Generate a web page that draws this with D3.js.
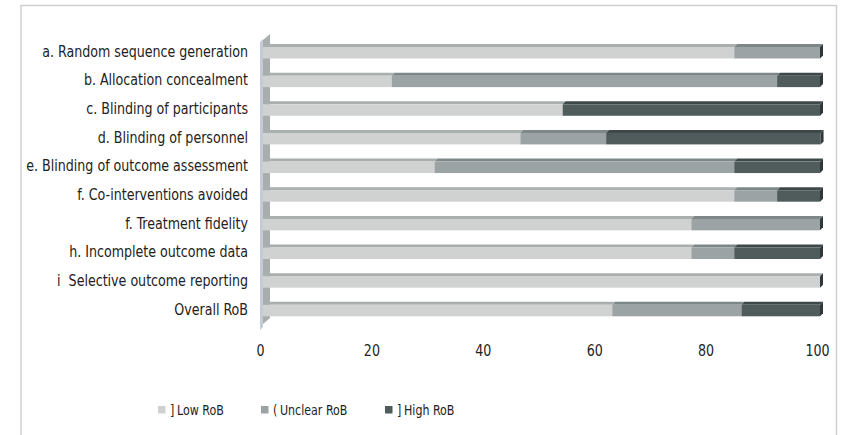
<!DOCTYPE html>
<html><head><meta charset="utf-8">
<script src="https://cdn.jsdelivr.net/npm/d3@7"></script>
<style>
html,body{margin:0;padding:0;background:#fff;}
svg{display:block;}
text{font-family:"Liberation Sans Narrow","DejaVu Sans Condensed","Roboto Condensed","Open Sans",sans-serif;fill:#222;}
</style></head>
<body>
<svg id="chart" width="849" height="435"></svg>
<script>
const categories = [
  "a. Random sequence generation",
  "b. Allocation concealment",
  "c. Blinding of participants",
  "d. Blinding of personnel",
  "e. Blinding of outcome assessment",
  "f. Co-interventions avoided",
  "f. Treatment fidelity",
  "h. Incomplete outcome data",
  "i  Selective outcome reporting",
  "Overall RoB"
];
const seriesNames = ["Low RoB", "Unclear RoB", "High RoB"];
const lowRoB     = [84.6, 23.1, 53.8, 46.2, 30.8, 84.6, 76.9, 76.9, 100, 62.7];
const unclearRoB = [15.4, 69.2, 0,    15.4, 53.8,  7.7, 23.1,  7.7,   0, 23.2];
const highRoB    = [0,     7.7, 46.2, 38.5, 15.4,  7.7,  0,   15.4,   0, 14.1];
const xTicks = [0, 20, 40, 60, 80, 100];

const frontColors = ["#d0d2d1", "#9ca3a4", "#505b5c"];
const topColors   = ["#a9aeae", "#7e8788", "#3e4849"];
const sideColor   = "#2f3738";

const svg = d3.select("#chart");
const dx = 3, dy = -3;

const x = d3.scaleLinear().domain([0, 100]).range([263, 820]);
const y = d3.scaleBand().domain(categories).range([47, 316.3]).paddingInner(0.6).paddingOuter(0);

// frame
svg.append("rect").attr("x", 21).attr("y", 5.5).attr("width", 815.5).attr("height", 440)
  .attr("fill", "none").attr("stroke", "#cfcfcf").attr("stroke-width", 1.5);

// 3D wall
const wall = svg.append("g");
wall.append("polygon")
  .attr("points", [[263,40],[270,34],[270,318],[263,324]].map(p=>p.join(",")).join(" "))
  .attr("fill", "#a9adae");
wall.append("polygon")
  .attr("points", [[260,42],[263,39],[263,327],[260,330]].map(p=>p.join(",")).join(" "))
  .attr("fill", "#c3ccd6");

// stacked data
const rows = categories.map((c, i) => ({cat: c, vals: [lowRoB[i], unclearRoB[i], highRoB[i]]}));
const bars = svg.append("g");
rows.forEach(r => {
  let acc = 0;
  const y0 = y(r.cat), h = y.bandwidth();
  const segs = [];
  r.vals.forEach((v, k) => {
    if (v > 0) segs.push({k, a: acc, b: acc + v});
    acc += v;
  });
  segs.forEach(s => {
    const x0 = x(s.a), x1 = x(s.b);
    bars.append("polygon")
      .attr("points", [[x0,y0],[x0+dx,y0+dy],[x1+dx,y0+dy],[x1,y0]].map(p=>p.join(",")).join(" "))
      .attr("fill", topColors[s.k]);
    bars.append("rect").attr("x", x0).attr("y", y0).attr("width", x1 - x0).attr("height", h)
      .attr("fill", frontColors[s.k]);
  });
  const last = segs[segs.length - 1];
  const xe = x(last.b);
  bars.append("polygon")
    .attr("points", [[xe,y0],[xe+dx,y0+dy],[xe+dx,y0+h+dy],[xe,y0+h]].map(p=>p.join(",")).join(" "))
    .attr("fill", sideColor);
});

// category labels (horizontally condensed to mimic the narrow face)
const labelG = svg.append("g");
const labels = labelG.selectAll("text").data(categories).join("text")
  .attr("x", 0).attr("y", 0)
  .attr("dy", "0.35em").attr("text-anchor", "end")
  .attr("font-size", 16).style("white-space", "pre").text(d => d);
const w0 = labels.nodes()[0].getComputedTextLength();
const sx = Math.min(1, 206 / w0);
labels.attr("transform", d => `translate(248,${y(d) + y.bandwidth()/2 - 1.5}) scale(${sx},1)`);

// x axis labels
const axis = d3.axisBottom(x).tickValues(xTicks).tickSize(0).tickPadding(0);
const ag = svg.append("g").attr("transform", "translate(-3,345)").call(axis);
ag.select(".domain").remove();
ag.selectAll("text").attr("font-size", 16).attr("fill", "#222")
  .style("font-family", '"Liberation Sans Narrow","DejaVu Sans Condensed",sans-serif')
  .attr("transform", `scale(${sx},1)`);

// legend
const legendX = [158, 261, 385];
const glyphs = ["]", "(", "]"];
const lg = svg.append("g");
seriesNames.forEach((n, k) => {
  lg.append("rect").attr("x", legendX[k]).attr("y", 406).attr("width", 7.5).attr("height", 7.5)
    .attr("fill", frontColors[k]);
  lg.append("text").attr("transform", `translate(${legendX[k] + 12},414.5) scale(${sx},1)`)
    .attr("font-size", 14).text(glyphs[k]);
  lg.append("text").attr("transform", `translate(${legendX[k] + 19},414.5) scale(${sx},1)`)
    .attr("font-size", 14).text(n);
});
</script>
</body></html>
